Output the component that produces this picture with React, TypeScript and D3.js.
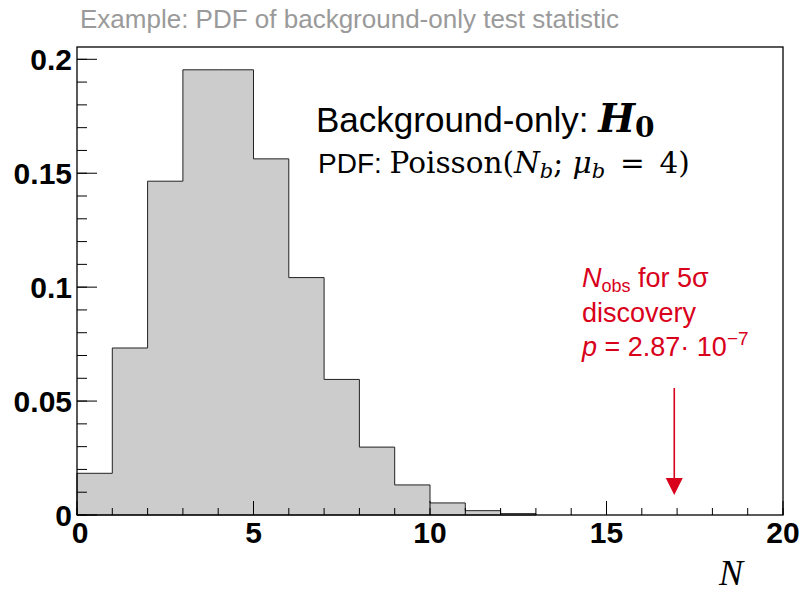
import React from "react";
import * as d3 from "d3";

// ---- data ----
const BIN_LOW: number[] = [0, 1, 2, 3, 4, 5, 6, 7, 8, 9, 10, 11, 12];
const BIN_VALUES: number[] = [0.0183, 0.0733, 0.1465, 0.1954, 0.1954, 0.1563, 0.1042, 0.0595, 0.0298, 0.0132, 0.0053, 0.0019, 0.0006];
const BIN_WIDTH = 1;
const X_MAJOR: number[] = [0, 5, 10, 15, 20];
const X_MINOR: number[] = d3.range(0, 21, 1);
const Y_MAJOR: number[] = [0, 0.05, 0.1, 0.15, 0.2];
const Y_MINOR: number[] = d3.range(0, 0.2051, 0.01);
const Y_TICK_LABELS: string[] = ["0", "0.05", "0.1", "0.15", "0.2"];
const ARROW_N = 16.92;

const W = 803;
const H = 594;
const L = 77, R = 783, T = 47, B = 515;

export default function App() {
  const x = d3.scaleLinear().domain([0, 20]).range([L, R]);
  const y = d3.scaleLinear().domain([0, 0.2054]).range([B, T]);

  let path = `M${x(BIN_LOW[0])},${y(0)}`;
  BIN_LOW.forEach((lo, i) => {
    path += `V${y(BIN_VALUES[i])}H${x(lo + BIN_WIDTH)}`;
  });
  path += `V${y(0)}Z`;

  const sans = "'Liberation Sans', Arial, Helvetica, sans-serif";
  const serif = "'DejaVu Serif', 'Liberation Serif', serif";
  const red = "#d9001b";
  const ax = x(ARROW_N);

  return (
    <svg width={W} height={H} style={{ position: "absolute", left: 0, top: 0 }}>
      <rect x={0} y={0} width={W} height={H} fill="#fff" />
      <text x={80} y={28} fontFamily={sans} fontSize={26} fill="#9a9a9a">
        Example: PDF of background-only test statistic
      </text>

      <path d={path} fill="#cccccc" stroke="#222" strokeWidth={1} />
      <rect x={L} y={T} width={R - L} height={B - T} fill="none" stroke="#000" strokeWidth={1.3} />

      {Y_MINOR.map((v, i) => (
        <line key={"ym" + i} x1={L} x2={L + 10} y1={y(v)} y2={y(v)} stroke="#000" strokeWidth={1} />
      ))}
      {Y_MAJOR.map((v, i) => (
        <line key={"yM" + i} x1={L} x2={L + 20} y1={y(v)} y2={y(v)} stroke="#000" strokeWidth={1} />
      ))}
      {X_MINOR.map((v, i) => (
        <line key={"xm" + i} x1={x(v)} x2={x(v)} y1={B} y2={B - 7} stroke="#000" strokeWidth={1} />
      ))}
      {X_MAJOR.map((v, i) => (
        <line key={"xM" + i} x1={x(v)} x2={x(v)} y1={B} y2={B - 14} stroke="#000" strokeWidth={1} />
      ))}

      {Y_MAJOR.map((v, i) => (
        <text key={"yl" + i} x={72} y={y(v) + 10.5} textAnchor="end" fontFamily={sans} fontWeight="bold" fontSize={30} fill="#000">
          {Y_TICK_LABELS[i]}
        </text>
      ))}
      {X_MAJOR.map((v, i) => (
        <text key={"xl" + i} x={x(v) + (i === 0 ? 3 : 0)} y={543} textAnchor="middle" fontFamily={sans} fontWeight="bold" fontSize={30} fill="#000">
          {String(v)}
        </text>
      ))}

      <text x={719} y={585} fontFamily="'Liberation Serif', serif" fontStyle="italic" fontSize={36} fill="#000">N</text>

      <text x={316} y={132} fontFamily={sans} fontSize={35} fill="#000">
        Background-only:{" "}
        <tspan fontFamily={serif} fontStyle="italic" fontWeight="bold" fontSize={39}>H</tspan>
        <tspan fontFamily={serif} fontWeight="bold" fontSize={28} dy={5}>0</tspan>
      </text>

      <text x={318} y={173} fontFamily={sans} fontSize={28} fill="#000">
        PDF:{" "}
        <tspan fontFamily={serif} fontSize={29.5}>Poisson(</tspan>
        <tspan fontFamily={serif} fontStyle="italic" fontSize={29.5}>N</tspan>
        <tspan fontFamily={serif} fontStyle="italic" fontSize={21} dy={5}>b</tspan>
        <tspan fontFamily={serif} fontSize={29.5} dy={-5}>; </tspan>
        <tspan fontFamily={serif} fontStyle="italic" fontSize={29.5}>μ</tspan>
        <tspan fontFamily={serif} fontStyle="italic" fontSize={21} dy={5}>b</tspan>
        <tspan fontFamily={serif} fontSize={29.5} dy={-5}>{"\u2002=\u20024)"}</tspan>
      </text>

      <text x={582} y={287} fontFamily={sans} fontSize={27} fill={red}>
        <tspan fontStyle="italic">N</tspan>
        <tspan fontSize={18} dy={5}>obs</tspan>
        <tspan dy={-5}> for 5σ</tspan>
      </text>
      <text x={582} y={322} fontFamily={sans} fontSize={27} fill={red}>discovery</text>
      <text x={582} y={356} fontFamily={sans} fontSize={27} fill={red}>
        <tspan fontStyle="italic">p</tspan>
        <tspan> = 2.87· 10</tspan>
        <tspan fontSize={19} dy={-11}>−7</tspan>
      </text>

      <line x1={ax} x2={ax} y1={388} y2={480} stroke={red} strokeWidth={1.6} />
      <path d={`M${ax - 8.5},${478}L${ax + 8.5},${478}L${ax},${495}Z`} fill={red} />
    </svg>
  );
}
